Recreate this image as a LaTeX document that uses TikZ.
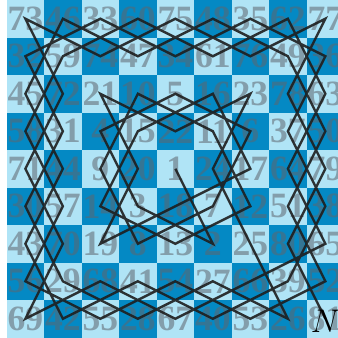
\documentclass[tikz,border=0pt]{standalone}
\usepackage{fontspec}
\newfontfamily\numfont{Liberation Serif}
\definecolor{lightsq}{RGB}{176,228,246}
\definecolor{darksq}{RGB}{4,137,196}
\definecolor{numcol}{RGB}{95,102,110}
\definecolor{tourcol}{RGB}{30,30,30}
\tikzset{
  numlabel/.style={inner sep=0pt, text=numcol, text opacity=0.55, font=\numfont\bfseries\fontsize{27}{27}\selectfont},
  tourline/.style={draw=tourcol, line width=1.8pt, opacity=0.9},
}
\begin{document}
\begin{tikzpicture}
\path[use as bounding box] (-0.176,-0.013) rectangle (8.811,9);
\fill[white] (-0.176,-0.013) rectangle (8.811,9);
\foreach \r in {1,...,9}{
  \foreach \c in {1,...,9}{
    \pgfmathtruncatemacro{\sqpar}{mod(\r+\c,2)}
    \ifnum\sqpar=0
      \fill[lightsq] (\c-1,9-\r) rectangle (\c,10-\r);
    \else
      \fill[darksq] (\c-1,9-\r) rectangle (\c,10-\r);
    \fi
  }
}
\foreach \row [count=\r] in {
  {73,46,33,60,75,48,35,62,77},
  {32,59,74,47,34,61,76,49,36},
  {45,72,21,10,5,16,23,78,63},
  {58,31,4,15,22,11,6,37,50},
  {71,44,9,20,1,24,17,64,79},
  {30,57,14,3,18,7,12,51,38},
  {43,70,19,8,13,2,25,80,65},
  {56,29,68,41,54,27,66,39,52},
  {69,42,55,28,67,40,53,26,81}}{
  \foreach \v [count=\c] in \row {
    \node[numlabel] (n\v) at (\c-0.5,9.5-\r) {\v};
  }
}
\draw[tourline] (n1.center) \foreach \i in {2,...,81}{ -- (n\i.center) };
\node[inner sep=0pt, font=\fontsize{27}{27}\selectfont] (knight) at (8.5,0.43) {$N$};
\end{tikzpicture}
\end{document}
